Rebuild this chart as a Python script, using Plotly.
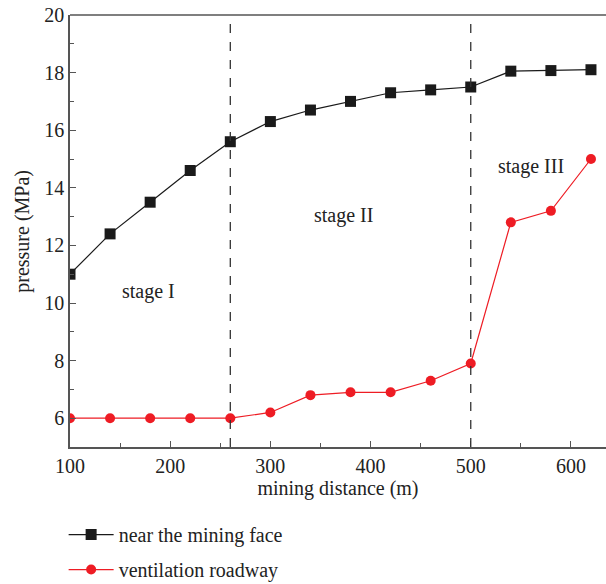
import plotly.graph_objects as go

distance = [100, 140, 180, 220, 260, 300, 340, 380, 420, 460, 500, 540, 580, 620]
face_pressure = [11.0, 12.4, 13.5, 14.6, 15.6, 16.3, 16.7, 17.0, 17.3, 17.4, 17.5, 18.05, 18.07, 18.1]
roadway_pressure = [6.0, 6.0, 6.0, 6.0, 6.0, 6.2, 6.8, 6.9, 6.9, 7.3, 7.9, 12.8, 13.2, 15.0]
stage_boundaries = [260, 500]
stage_labels = ["stage I", "stage II", "stage III"]
stage_label_x = [178, 373, 560]
stage_label_y = [10.4, 13.05, 14.75]

FONT = "Liberation Serif"
FS = 20
fig = go.Figure()
fig.add_trace(go.Scatter(
    x=distance, y=face_pressure, mode="lines+markers", name="near the mining face",
    line=dict(color="#1a1a1a", width=1.2),
    marker=dict(symbol="square", size=11, color="#1a1a1a"),
    legendgroup="a"))
fig.add_trace(go.Scatter(
    x=distance, y=roadway_pressure, mode="lines+markers", name="ventilation roadway",
    line=dict(color="#ee1c24", width=1.2),
    marker=dict(symbol="circle", size=10, color="#ee1c24"),
    legendgroup="b"))

for xb in stage_boundaries:
    fig.add_shape(type="line", xref="x", yref="paper", x0=xb, x1=xb, y0=0, y1=1,
                  line=dict(color="#333333", width=1.3, dash="dash"))

for t, xx, yy in zip(stage_labels, stage_label_x, stage_label_y):
    fig.add_annotation(x=xx, y=yy, text=t, showarrow=False,
                       font=dict(family=FONT, size=FS, color="#222"))

# y-axis title as rotated annotation
fig.add_annotation(x=-0.09, xref="paper", y=0.5, yref="paper", text="pressure (MPa)",
                   textangle=-90, showarrow=False, xanchor="center", yanchor="middle",
                   font=dict(family=FONT, size=FS, color="#222"))

axis_common = dict(
    showline=True, linecolor="#555555", linewidth=1.5, mirror=False,
    ticks="inside", ticklen=6, tickwidth=1.2, tickcolor="#555555",
    showgrid=False, zeroline=False,
    tickfont=dict(family=FONT, size=FS, color="#222"),
)
fig.update_xaxes(range=[100, 635], dtick=100, tick0=100,
                 minor=dict(ticks="inside", ticklen=4, dtick=50, tickcolor="#555555", tickwidth=1.2),
                 title=dict(text="mining distance (m)", font=dict(family=FONT, size=FS, color="#222"), standoff=4),
                 automargin=False, **axis_common)
fig.update_yaxes(range=[5, 20], dtick=2, tick0=6,
                 minor=dict(ticks="inside", ticklen=4, dtick=1, tickcolor="#555555", tickwidth=1.2),
                 automargin=False, **axis_common)

fig.add_shape(type="line", xref="paper", yref="paper", x0=0, x1=1, y0=1, y1=1,
              line=dict(color="#555555", width=1.5))

fig.update_layout(
    width=606, height=584,
    margin=dict(l=70, r=0, t=15, b=137, autoexpand=False),
    plot_bgcolor="white", paper_bgcolor="white",
    showlegend=True,
    legend=dict(x=0.105, xref="container", y=0.118, yref="container",
                xanchor="left", yanchor="top", itemwidth=45,
                font=dict(family=FONT, size=FS, color="#222"),
                tracegroupgap=6, bgcolor="rgba(0,0,0,0)"),
)
fig.write_html("out.html")
